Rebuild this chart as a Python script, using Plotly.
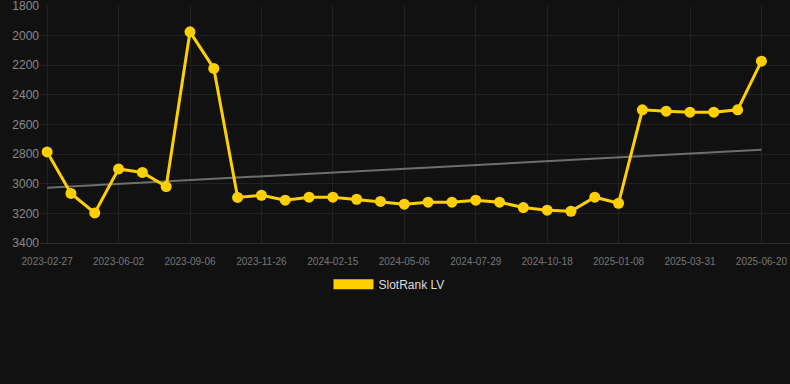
import numpy as np
import plotly.graph_objects as go

dates = [
    "2023-02-27", "2023-03-31", "2023-05-02",
    "2023-06-02", "2023-07-04", "2023-08-05",
    "2023-09-06", "2023-10-03", "2023-10-30",
    "2023-11-26", "2023-12-23", "2024-01-19",
    "2024-02-15", "2024-03-13", "2024-04-09",
    "2024-05-06", "2024-06-03", "2024-07-01",
    "2024-07-29", "2024-08-25", "2024-09-21",
    "2024-10-18", "2024-11-14", "2024-12-11",
    "2025-01-08", "2025-02-04", "2025-03-03",
    "2025-03-31", "2025-04-27", "2025-05-24",
    "2025-06-20",
]
rank_lv = [
    2785, 3066, 3197, 2900, 2924, 3019, 1974, 2221, 3093, 3078,
    3111, 3091, 3091, 3105, 3120, 3138, 3125, 3125, 3111, 3125,
    3161, 3179, 3186, 3091, 3132, 2501, 2510, 2517, 2517, 2501,
    2172,
]
tick_dates = dates[::3]
y_ticks = [1800, 2000, 2200, 2400, 2600, 2800, 3000, 3200, 3400]

idx = np.arange(len(rank_lv))
slope, intercept = np.polyfit(idx, rank_lv, 1)
trend = (slope * idx + intercept).tolist()

GOLD = "#FFD000"
fig = go.Figure()
fig.add_trace(go.Scatter(
    x=dates, y=trend, mode="lines",
    line=dict(color="#6e6e6e", width=2),
    showlegend=False, hoverinfo="skip",
))
fig.add_trace(go.Scatter(
    x=dates, y=rank_lv, mode="lines+markers",
    line=dict(color=GOLD, width=3),
    marker=dict(color=GOLD, size=11),
    name="SlotRank LV", showlegend=False,
))
fig.add_trace(go.Scatter(
    x=[None], y=[None], mode="lines",
    line=dict(color=GOLD, width=13),
    name="SlotRank LV", showlegend=True,
))

fig.update_layout(
    width=790, height=384,
    paper_bgcolor="#111111", plot_bgcolor="#111111",
    margin=dict(l=40, r=0, t=6, b=141),
    font=dict(family="Liberation Sans, Arial, sans-serif", color="#888888"),
    xaxis=dict(
        type="category", categoryorder="array", categoryarray=dates,
        tickmode="array", tickvals=tick_dates, ticktext=tick_dates,
        range=[-0.3, 31.2],
        showgrid=True, gridcolor="#222222", gridwidth=1,
        zeroline=False, showline=True, linecolor="#2e2e2e", linewidth=1,
        tickfont=dict(size=10, color="#777777"),
        ticks="", ticklen=0, ticklabelstandoff=9,
    ),
    yaxis=dict(
        range=[3400.5, 1799.5], tickvals=y_ticks,
        showgrid=True, gridcolor="#222222", gridwidth=1,
        zeroline=False, showline=False,
        tickfont=dict(size=12, color="#8a8a8a"),
        ticks="", ticklen=0, ticklabeloverflow="allow",
    ),
    legend=dict(
        orientation="h", xref="container", yref="container",
        x=0.4924, xanchor="center", y=0.26, yanchor="middle",
        itemwidth=40,
        font=dict(size=12, color="#dddddd"), bgcolor="rgba(0,0,0,0)",
    ),
)
fig.write_html(
    "out.html",
    config={"displayModeBar": False},
    post_script="document.body.style.margin='0';",
)
